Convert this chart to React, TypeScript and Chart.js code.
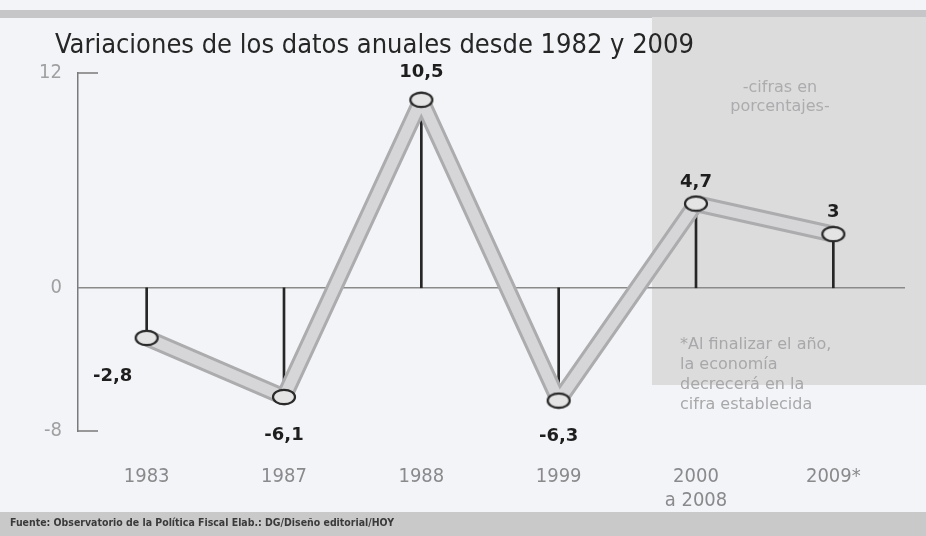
import React, { useEffect, useRef } from "react";
import { Chart, registerables } from "chart.js";

Chart.register(...registerables);

const categories: (string | string[])[] = ["1983", "1987", "1988", "1999", ["2000", "a 2008"], "2009*"];
const values: number[] = [-2.8, -6.1, 10.5, -6.3, 4.7, 3];
const yTickValues: number[] = [-8, 0, 12];
const titleText = "Variaciones de los datos anuales desde 1982 y 2009";
const unitNote: string[] = ["-cifras en", "porcentajes-"];
const footNote: string[] = ["*Al finalizar el año,", "la economía", "decrecerá en la", "cifra establecida"];
const sourceText = "Fuente: Observatorio de la Política Fiscal Elab.: DG/Diseño editorial/HOY";

const NARROW = "'Liberation Sans Narrow', 'DejaVu Sans Condensed', 'Liberation Sans', sans-serif";

function makeEllipse(): HTMLCanvasElement {
  const c = document.createElement("canvas");
  c.width = 26;
  c.height = 18;
  const g = c.getContext("2d")!;
  g.beginPath();
  g.ellipse(13, 9, 11, 7.2, 0, 0, Math.PI * 2);
  g.fillStyle = "#e4e4e4";
  g.fill();
  g.lineWidth = 2.2;
  g.strokeStyle = "#2a2a2a";
  g.stroke();
  return c;
}

function fitText(ctx: CanvasRenderingContext2D, text: string, x: number, y: number, maxW: number) {
  const w = ctx.measureText(text).width;
  ctx.save();
  ctx.translate(x, y);
  if (w > maxW) ctx.scale(maxW / w, 1);
  ctx.fillText(text, 0, 0);
  ctx.restore();
}

const decorPlugin = {
  id: "decor",
  beforeDraw(chart: any) {
    const ctx: CanvasRenderingContext2D = chart.ctx;
    ctx.save();
    ctx.fillStyle = "#f3f4f7";
    ctx.fillRect(0, 0, chart.width, chart.height);
    ctx.fillStyle = "#c6c6c8";
    ctx.fillRect(0, 10, chart.width, 8);
    ctx.fillStyle = "#dcdcdd";
    ctx.fillRect(652, 17, chart.width - 652, 368);
    ctx.fillStyle = "#c9c9ca";
    ctx.fillRect(0, 512, chart.width, chart.height - 512);
    ctx.restore();
  },
  beforeDatasetsDraw(chart: any) {
    const ctx: CanvasRenderingContext2D = chart.ctx;
    const y = chart.scales.y;
    const area = chart.chartArea;
    ctx.save();
    ctx.strokeStyle = "#8a8a8a";
    ctx.lineWidth = 1.5;
    const y0 = y.getPixelForValue(0);
    ctx.beginPath();
    ctx.moveTo(area.left, y0);
    ctx.lineTo(area.right + 3, y0);
    ctx.stroke();
    ctx.strokeStyle = "#7a7a7a";
    for (const v of [yTickValues[0], yTickValues[yTickValues.length - 1]]) {
      const py = y.getPixelForValue(v);
      ctx.beginPath();
      ctx.moveTo(area.left, py);
      ctx.lineTo(area.left + 20, py);
      ctx.stroke();
    }
    ctx.restore();
  },
  afterDraw(chart: any) {
    const ctx: CanvasRenderingContext2D = chart.ctx;
    const xs = chart.scales.x;
    const ys = chart.scales.y;
    ctx.save();
    ctx.fillStyle = "#262626";
    ctx.textBaseline = "middle";
    ctx.textAlign = "left";
    ctx.font = `27px ${NARROW}`;
    fitText(ctx, titleText, 55, 46, 650);

    const offsets: [number, number][] = [[-34, 38], [0, 38], [0, -28], [0, 36], [0, -21], [0, -22]];
    ctx.font = "bold 18px 'DejaVu Sans', sans-serif";
    ctx.fillStyle = "#1e1e1e";
    ctx.textAlign = "center";
    values.forEach((v, i) => {
      const px = xs.getPixelForValue(i);
      const py = ys.getPixelForValue(v);
      const [dx, dy] = offsets[i];
      ctx.fillText(String(v).replace(".", ","), px + dx, py + dy);
    });

    ctx.font = "16px 'DejaVu Sans', sans-serif";
    ctx.fillStyle = "#acacae";
    ctx.textAlign = "center";
    unitNote.forEach((t, i) => ctx.fillText(t, 780, 88 + i * 19));

    ctx.textAlign = "left";
    ctx.fillStyle = "#a8a8aa";
    footNote.forEach((t, i) => fitText(ctx, t, 680, 345 + i * 20, 236));

    ctx.font = `bold 11px ${NARROW}`;
    ctx.fillStyle = "#3a3a3a";
    ctx.textAlign = "left";
    fitText(ctx, sourceText, 10, 523, 384);
    ctx.restore();
  },
};

export default function App() {
  const ref = useRef<HTMLCanvasElement | null>(null);
  useEffect(() => {
    if (!ref.current) return;
    const ellipse = makeEllipse();
    const chart = new Chart(ref.current, {
      type: "bar",
      data: {
        labels: categories as any,
        datasets: [
          {
            type: "bar",
            data: values,
            backgroundColor: "#262626",
            barThickness: 2,
            order: 3,
          } as any,
          {
            type: "line",
            data: values,
            borderColor: "#acacae",
            borderWidth: 17,
            borderJoinStyle: "round",
            pointRadius: 0,
            order: 2,
          },
          {
            type: "line",
            data: values,
            borderColor: "#d6d5d8",
            borderWidth: 11,
            borderJoinStyle: "round",
            pointStyle: ellipse,
            pointRadius: 9,
            order: 1,
          },
        ],
      },
      options: {
        animation: false,
        responsive: false,
        devicePixelRatio: 1,
        layout: { padding: { top: 73, right: 24, bottom: 0, left: 0 } },
        plugins: { legend: { display: false }, tooltip: { enabled: false } },
        scales: {
          x: {
            offset: true,
            grid: { display: false, drawTicks: false },
            border: { display: false },
            ticks: {
              color: "#8a8a8c",
              padding: 34,
              font: { family: NARROW, size: 20 },
              maxRotation: 0,
              autoSkip: false,
            },
            afterFit: (s: any) => {
              s.height = 105;
            },
          },
          y: {
            min: -8,
            max: 12,
            afterBuildTicks: (s: any) => {
              s.ticks = yTickValues.map((v) => ({ value: v }));
            },
            grid: { display: false, drawTicks: false },
            border: { display: true, color: "#7a7a7a", width: 1.5 },
            ticks: {
              color: "#a0a0a2",
              padding: 16,
              font: { family: NARROW, size: 20 },
            },
            afterFit: (s: any) => {
              s.width = 78;
            },
          },
        },
      },
      plugins: [decorPlugin],
    });
    return () => chart.destroy();
  }, []);
  return (
    <div style={{ position: "absolute", left: 0, top: 0, width: 926, height: 536 }}>
      <canvas ref={ref} width={926} height={536} style={{ width: 926, height: 536, display: "block" }} />
    </div>
  );
}
